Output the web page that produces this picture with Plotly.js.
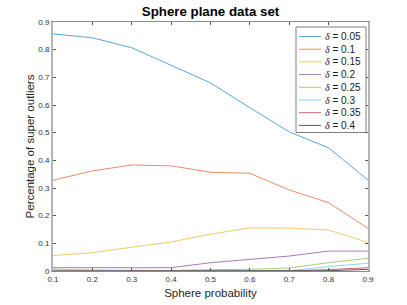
<!DOCTYPE html>
<html><head><meta charset="utf-8">
<script src="https://cdn.plot.ly/plotly-3.0.1.min.js"></script>
<style>html,body{margin:0;padding:0;background:#fff}</style>
</head><body>
<div id="chart" style="width:407px;height:305px"></div>
<script>
const sphereProb = [0.1, 0.2, 0.3, 0.4, 0.5, 0.6, 0.7, 0.8, 0.9];
const yTickVals = [0, 0.1, 0.2, 0.3, 0.4, 0.5, 0.6, 0.7, 0.8, 0.9];
const yTickText = ["0", "0.1", "0.2", "0.3", "0.4", "0.5", "0.6", "0.7", "0.8", "0.9"];
const deltaLabels = ["0.05", "0.1", "0.15", "0.2", "0.25", "0.3", "0.35", "0.4"];
const d005 = [0.857, 0.843, 0.807, 0.743, 0.680, 0.590, 0.503, 0.445, 0.329];
const d010 = [0.328, 0.362, 0.383, 0.380, 0.357, 0.353, 0.293, 0.247, 0.154];
const d015 = [0.056, 0.066, 0.086, 0.105, 0.133, 0.156, 0.155, 0.148, 0.103];
const d020 = [0.012, 0.012, 0.012, 0.012, 0.030, 0.042, 0.054, 0.072, 0.072];
const d025 = [0.007, 0.003, 0.003, 0.002, 0.005, 0.006, 0.011, 0.030, 0.046];
const d030 = [0.004, 0.002, 0.001, 0.001, 0.001, 0.001, 0.001, 0.016, 0.028];
const d035 = [0.000, 0.000, 0.000, 0.000, 0.000, 0.000, 0.000, 0.005, 0.012];
const d040 = [0.000, 0.000, 0.000, 0.000, 0.000, 0.000, 0.000, 0.001, 0.006];
const series = [d005, d010, d015, d020, d025, d030, d035, d040];
const colors = ["#5aa5da", "#ec8c6a", "#f2cb6a", "#a87ab8", "#a8cf7c", "#8fd3f0", "#c66a78", "#555555"];

const L = 53, R = 368, T = 22, B = 271;
const px2x = p => (p - L) / (R - L);
const py2y = p => (B - p) / (B - T);

const traces = series.map((s, i) => ({
  x: sphereProb, y: s, type: 'scatter', mode: 'lines',
  line: {color: colors[i], width: 1}, showlegend: false, hoverinfo: 'skip'
}));

const shapes = [{
  type: 'rect', xref: 'paper', yref: 'paper',
  x0: px2x(296), x1: px2x(366), y0: py2y(132.5), y1: py2y(27),
  line: {color: '#7f7f7f', width: 1}, fillcolor: '#ffffff', layer: 'above'
}];
const annotations = [];
deltaLabels.forEach((lab, i) => {
  const py = 36.5 + 12.7 * i;
  shapes.push({type: 'line', xref: 'paper', yref: 'paper',
    x0: px2x(299), x1: px2x(321), y0: py2y(py), y1: py2y(py),
    line: {color: colors[i], width: 1}, layer: 'above'});
  annotations.push({xref: 'paper', yref: 'paper', x: px2x(323), y: py2y(py),
    xanchor: 'left', yanchor: 'middle', showarrow: false,
    text: '<span style="font-family:\'Liberation Serif\',serif"><i>δ</i></span> = ' + lab,
    font: {family: 'Liberation Sans, Arial, sans-serif', size: 10, color: '#1a1a1a'}});
});

const axCommon = {
  showgrid: false, zeroline: false, showline: true, mirror: 'allticks',
  linecolor: '#8c8c8c', linewidth: 1, ticks: 'inside', ticklen: 3, tickcolor: '#555',
  tickfont: {family: 'Liberation Sans, Arial, sans-serif', size: 8, color: '#333'}
};

const layout = {
  width: 407, height: 305,
  margin: {l: L, r: 407 - R, t: T, b: 305 - B},
  paper_bgcolor: '#fff', plot_bgcolor: '#fff',
  title: {text: '<b>Sphere plane data set</b>', x: (L + R) / 2 / 407, xanchor: 'center',
    y: 1 - 11 / 305, yanchor: 'middle',
    font: {family: 'Liberation Sans, Arial, sans-serif', size: 13.3, color: '#000'}},
  xaxis: Object.assign({}, axCommon, {
    range: [0.1, 0.9], tickvals: sphereProb, ticktext: sphereProb.map(v => v.toFixed(1)),
    title: {text: 'Sphere probability', standoff: 6,
      font: {family: 'Liberation Sans, Arial, sans-serif', size: 11.5, color: '#262626'}}
  }),
  yaxis: Object.assign({}, axCommon, {
    range: [0, 0.9], tickvals: yTickVals, ticktext: yTickText,
    linecolor: '#b5b5b5', linewidth: 2,
    title: {text: 'Percentage of super outliers', standoff: 1,
      font: {family: 'Liberation Sans, Arial, sans-serif', size: 11.5, color: '#262626'}}
  }),
  shapes: shapes, annotations: annotations, showlegend: false
};

Plotly.newPlot('chart', traces, layout, {staticPlot: true, displayModeBar: false});
</script>
</body></html>
